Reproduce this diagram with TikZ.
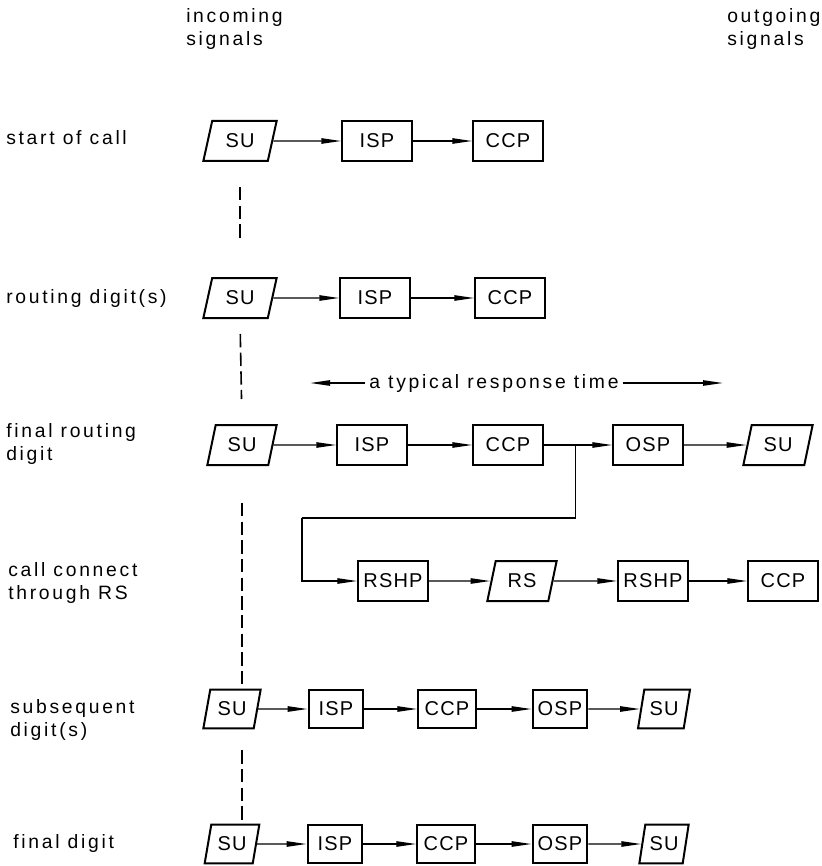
\documentclass[tikz,border=0pt]{standalone}
\usepackage{fontspec}
\setmainfont{Liberation Sans}[LetterSpace=14]
\newfontfamily\boxfont{Liberation Sans}[LetterSpace=6]
\usetikzlibrary{arrows.meta,positioning,shapes.geometric,calc}
\tikzset{
	proc/.style={
			draw,
			line width=1.5pt,
			minimum width=52pt,
			minimum height=30pt,
			inner sep=0pt,
			font=\boxfont\fontsize{15}{17}\selectfont
		},
	narrow/.style={minimum width=41pt, minimum height=29pt},
	sig/.style={proc, trapezium, trapezium stretches=true, trapezium left angle=72, trapezium right angle=108, minimum width=55pt},
	flow/.style={line width=1.1pt, -{Triangle[length=15pt,width=4pt]}},
	spine/.style={line width=1.2pt, dash pattern=on 10pt off 4pt},
	rowlabel/.style={anchor=west, align=left, inner sep=0pt, font=\fontsize{14.5}{17.25}\selectfont}
}

\begin{document}
\begin{tikzpicture}[x=0.75pt, y=-0.75pt]
			\useasboundingbox (0,0) rectangle (821,866);
			% headings and row labels
			\node[rowlabel] (inc) at (186,29) {incoming\\signals};
			\node[rowlabel] (outg) at (727,29) {outgoing\\signals};
			\node[rowlabel] (l1) at (6,138) {start of call};
			\node[rowlabel] (l2) at (6,298) {routing digit(s)};
			\node[rowlabel] (l3) at (6,444) {final routing\\digit};
			\node[rowlabel] (l4) at (8,583) {call connect\\through RS};
			\node[rowlabel] (l5) at (10,720) {subsequent\\digit(s)};
			\node[rowlabel] (l6) at (13,843) {final digit};
			% start of call
			\node[sig] (su1) at (240,141) {SU};
			\node[proc] (isp1) at (377,141) {ISP};
			\node[proc] (ccp1) at (508,141) {CCP};
			\draw[flow] (su1) -- (isp1);
			\draw[flow] (isp1) -- (ccp1);
			% routing digits
			\node[sig] (su2) at (240,298) {SU};
			\node[proc] (isp2) at (375,298) {ISP};
			\node[proc] (ccp2) at (510,298) {CCP};
			\draw[flow] (su2) -- (isp2);
			\draw[flow] (isp2) -- (ccp2);
			% response time
			\node[inner sep=3pt, font=\fontsize{14.5}{17}\selectfont] (resp) at (494,383) {a typical response time};
			\coordinate (rl) at (310,383);
			\coordinate (rr) at (723,383);
			\draw[flow] (resp) -- (rl);
			\draw[flow] (resp) -- (rr);
			% final routing digit
			\node[sig, minimum width=52pt] (su3) at (242,445) {SU};
			\node[proc] (isp3) at (372,445) {ISP};
			\node[proc] (ccp3) at (508,445) {CCP};
			\node[proc] (osp3) at (648,445) {OSP};
			\node[sig, minimum width=52pt] (suo3) at (778,445) {SU};
			\draw[flow] (su3) -- (isp3);
			\draw[flow] (isp3) -- (ccp3);
			\draw[flow] (ccp3) -- (osp3);
			\draw[flow] (osp3) -- (suo3);
			% call connect through RS
			\node[proc] (rshp1) at (393,581) {RSHP};
			\node[sig, minimum width=52pt] (rs) at (522,581) {RS};
			\node[proc] (rshp2) at (653,581) {RSHP};
			\node[proc] (ccp4) at (783,581) {CCP};
			\path (ccp3.east) -- (osp3.west) coordinate[pos=0.46] (jn);
			\coordinate (lp) at (302,518);
			\draw[line width=1.1pt] (jn) |- (lp);
			\draw[flow] (lp) |- (rshp1.west);
			\draw[flow] (rshp1) -- (rs);
			\draw[flow] (rs) -- (rshp2);
			\draw[flow] (rshp2) -- (ccp4);
			% subsequent digits
			\node[sig, narrow, minimum width=43pt] (su5) at (232,709) {SU};
			\node[proc, narrow] (isp5) at (336,709) {ISP};
			\node[proc, narrow, minimum width=43pt] (ccp5) at (447,709) {CCP};
			\node[proc, narrow] (osp5) at (560,709) {OSP};
			\node[sig, narrow, minimum width=39pt] (suo5) at (664,709) {SU};
			\draw[flow] (su5) -- (isp5);
			\draw[flow] (isp5) -- (ccp5);
			\draw[flow] (ccp5) -- (osp5);
			\draw[flow] (osp5) -- (suo5);
			% final digit
			\node[sig, narrow, minimum width=41pt] (su6) at (232,844) {SU};
			\node[proc, narrow] (isp6) at (335,844) {ISP};
			\node[proc, narrow, minimum width=43pt] (ccp6) at (446,844) {CCP};
			\node[proc, narrow] (osp6) at (560,844) {OSP};
			\node[sig, narrow, minimum width=37pt] (suo6) at (664,844) {SU};
			\draw[flow] (su6) -- (isp6);
			\draw[flow] (isp6) -- (ccp6);
			\draw[flow] (ccp6) -- (osp6);
			\draw[flow] (osp6) -- (suo6);
			% incoming signal spine
			\draw[spine, shorten <=18.75pt, shorten >=27.75pt] (su1.south) -- (su2.north);
			\draw[spine, shorten <=11.25pt, shorten >=18.75pt] (su2.south) -- (su3.north);
			\draw[spine, shorten <=27.75pt] (su3.south) -- (su3.south |- su5.north);
			\draw[spine, shorten <=15.75pt] (su3.south |- su5.south) -- (su3.south |- su6.north);
		\end{tikzpicture}
\end{document}
